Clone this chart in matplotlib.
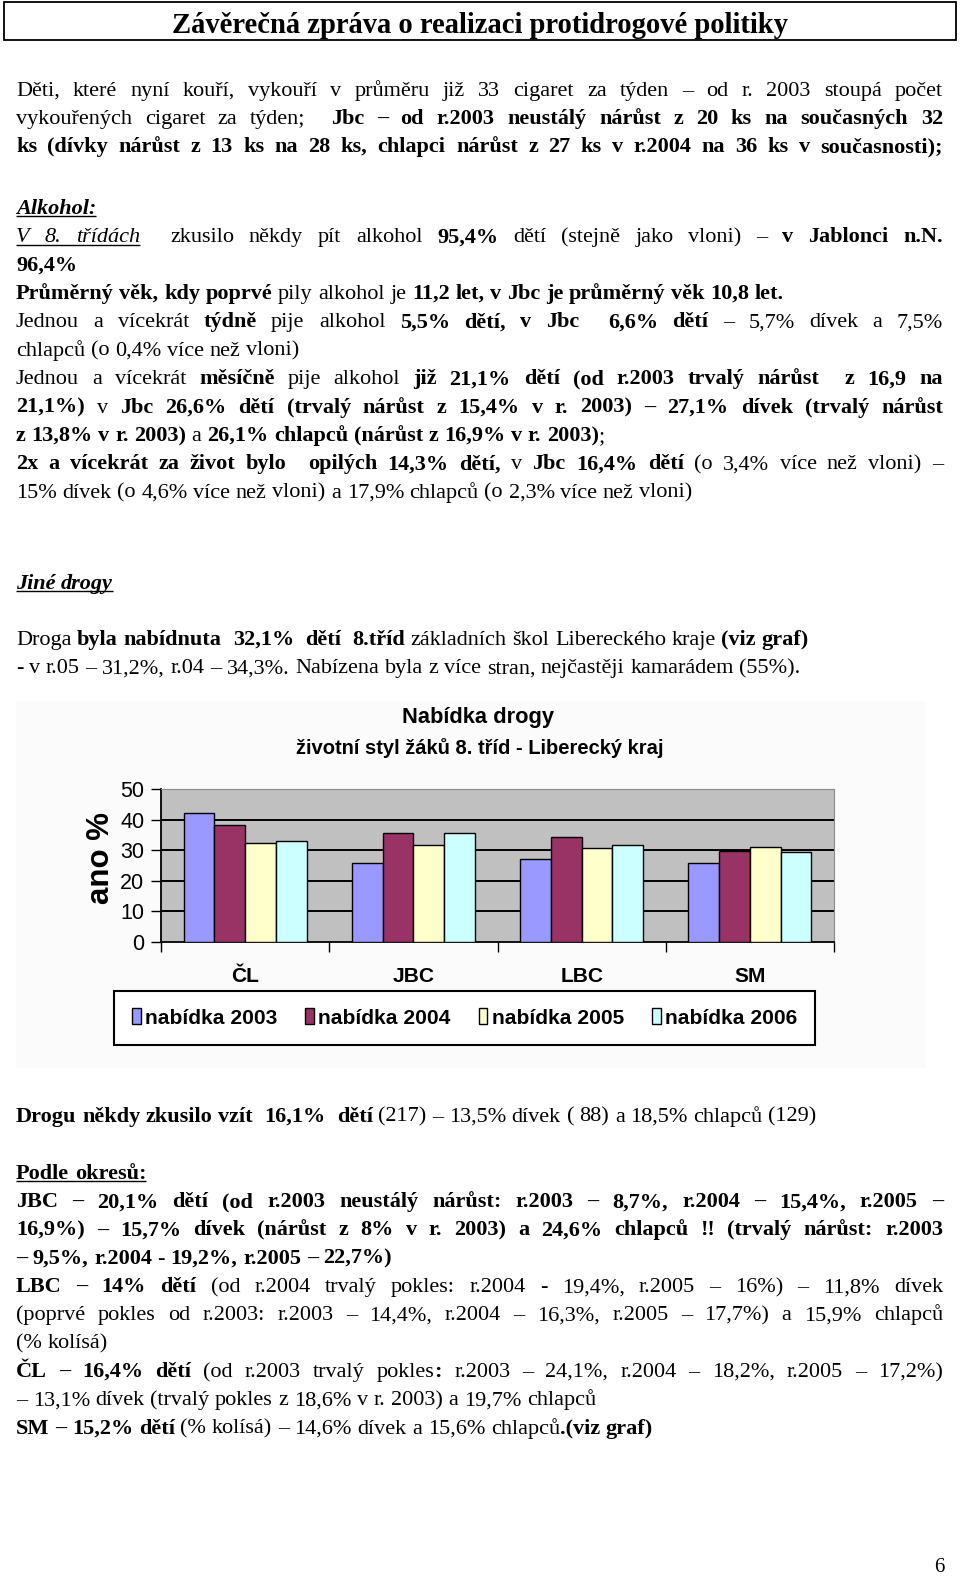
import re
import numpy as np
import matplotlib
matplotlib.use("Agg")
import matplotlib.pyplot as plt
from matplotlib.font_manager import FontProperties
from matplotlib.patches import Rectangle

# ---------------- chart data ----------------
categories = ['ČL', 'JBC', 'LBC', 'SM']
series_names = ['nabídka 2003', 'nabídka 2004', 'nabídka 2005', 'nabídka 2006']
offer_2003 = [42.0, 25.7, 27.0, 25.7]
offer_2004 = [38.2, 35.6, 34.4, 29.7]
offer_2005 = [32.2, 31.8, 30.6, 31.1]
offer_2006 = [32.9, 35.6, 31.8, 29.5]
series_colors = ['#9999FF', '#993366', '#FFFFCC', '#CCFFFF']
y_ticks = [0, 10, 20, 30, 40, 50]
chart_title = 'Nabídka drogy'
chart_subtitle = 'životní styl žáků 8. tříd - Liberecký kraj'
y_label = 'ano %'

# ---------------- page text (** bold, // italic, __ underline) ----------------
header_title = 'Závěrečná zpráva o realizaci protidrogové politiky'
page_number = '6'

block_a = [
    ('Děti, které nyní kouří, vykouří v průměru již 33 cigaret za týden – od r. 2003 stoupá počet', True),
    ('vykouřených cigaret za týden;  **Jbc – od r.2003 neustálý nárůst z 20 ks na současných 32**', True),
    ('**ks (dívky nárůst z 13 ks na 28 ks, chlapci nárůst z 27 ks v r.2004 na 36 ks v současnosti);**', True),
]
block_b = [
    ('**//__Alkohol:__//**', False),
    ('__//V 8. třídách//__  zkusilo někdy pít alkohol **95,4%** dětí (stejně jako vloni) – **v Jablonci n.N.**', True),
    ('**96,4%**', False),
    ('**Průměrný věk, kdy poprvé** pily alkohol je **11,2 let, v Jbc je průměrný věk 10,8 let.**', False),
    ('Jednou a vícekrát **týdně** pije alkohol **5,5% dětí, v Jbc  6,6% dětí** – 5,7% dívek a 7,5%', True),
    ('chlapců (o 0,4% více než vloni)', False),
    ('Jednou a vícekrát **měsíčně** pije alkohol **již 21,1% dětí (od r.2003 trvalý nárůst  z 16,9 na**', True),
    ('**21,1%)** v **Jbc 26,6% dětí (trvalý nárůst z 15,4% v r. 2003) – 27,1% dívek (trvalý nárůst**', True),
    ('**z 13,8% v r. 2003)** a **26,1% chlapců (nárůst z 16,9% v r. 2003)**;', False),
    ('**2x a vícekrát za život bylo  opilých 14,3% dětí,** v **Jbc 16,4% dětí** (o 3,4% více než vloni) –', True),
    ('15% dívek (o 4,6% více než vloni) a 17,9% chlapců (o 2,3% více než vloni)', False),
]
block_c1 = [('**//__Jiné drogy__//**', False)]
block_c2 = [
    ('Droga **byla nabídnuta  32,1%  dětí  8.tříd** základních škol Libereckého kraje **(viz graf)**', False),
    ('- v r.05 – 31,2%, r.04 – 34,3%. Nabízena byla z více stran, nejčastěji kamarádem (55%).', False),
]
block_d1 = [('**Drogu někdy zkusilo vzít  16,1%  dětí** (217) – 13,5% dívek ( 88) a 18,5% chlapců (129)', False)]
block_d2 = [
    ('**__Podle okresů:__**', False),
    ('**JBC – 20,1% dětí (od r.2003 neustálý nárůst: r.2003 – 8,7%, r.2004 – 15,4%, r.2005 –**', True),
    ('**16,9%) – 15,7% dívek (nárůst z 8% v r. 2003) a 24,6% chlapců !! (trvalý nárůst: r.2003**', True),
    ('**– 9,5%, r.2004 - 19,2%, r.2005 – 22,7%)**', False),
    ('**LBC – 14% dětí** (od r.2004 trvalý pokles: r.2004 - 19,4%, r.2005 – 16%) – 11,8% dívek', True),
    ('(poprvé pokles od r.2003: r.2003 – 14,4%, r.2004 – 16,3%, r.2005 – 17,7%) a 15,9% chlapců', True),
    ('(% kolísá)', False),
    ('**ČL – 16,4% dětí** (od r.2003 trvalý pokles**:** r.2003 – 24,1%, r.2004 – 18,2%, r.2005 – 17,2%)', True),
    ('– 13,1% dívek (trvalý pokles z 18,6% v r. 2003) a 19,7% chlapců', False),
    ('**SM – 15,2% dětí** (% kolísá) – 14,6% dívek a 15,6% chlapců**.(viz graf)**', False),
]

# ---------------- figure ----------------
W_PX, H_PX, DPI = 960, 1578, 100
SERIF = ['Liberation Serif', 'DejaVu Serif']
SANS = ['Liberation Sans', 'DejaVu Sans']

fig = plt.figure(figsize=(W_PX / DPI, H_PX / DPI), dpi=DPI)
renderer = fig.canvas.get_renderer()

ax = fig.add_axes([0, 0, 1, 1], zorder=0)
ax.set_xlim(0, W_PX)
ax.set_ylim(H_PX, 0)
ax.axis('off')


def fp(b=False, it=False, size=14, family=SERIF):
    return FontProperties(family=family, weight='bold' if b else 'normal',
                          style='italic' if it else 'normal', size=size)


def tw(s, prop):
    return renderer.get_text_width_height_descent(s, prop, ismath=False)[0]


def fit_size(s, prop_fn, target, base=16.0):
    return base * target / tw(s, prop_fn(base))


def parse(markup):
    parts = re.split(r'(\*\*|//|__)', markup)
    b = it = u = False
    pieces = []
    for p in parts:
        if p == '**':
            b = not b
        elif p == '//':
            it = not it
        elif p == '__':
            u = not u
        elif p:
            pieces.append((p, b, it, u))
    words, cur, nsp, gap = [], [], 0, 0
    for text, b, it, u in pieces:
        for ch in text:
            if ch == ' ':
                if cur:
                    words.append((gap, cur))
                    cur = []
                nsp += 1
            else:
                if not cur:
                    gap, nsp = nsp, 0
                if cur and cur[-1][1:] == (b, it, u):
                    cur[-1] = (cur[-1][0] + ch, b, it, u)
                else:
                    cur.append((ch, b, it, u))
    if cur:
        words.append((gap, cur))
    return words


L, R = 16, 943


def space_w(fs):
    return tw('x x', fp(size=fs)) - tw('xx', fp(size=fs))


def natural_width(words, fs, space_factor=1.0):
    total = sum(tw(s, fp(b, i, fs)) for g, pcs in words for s, b, i, u in pcs)
    total += sum(g for g, _ in words[1:]) * space_w(fs) * space_factor
    return total


def draw_line(words, yc, justify, fs):
    base = yc + 0.31 * fs * DPI / 72.0
    sw = space_w(fs)
    wl = [sum(tw(s, fp(b, i, fs)) for s, b, i, u in pcs) for g, pcs in words]
    nsp = sum(g for g, _ in words[1:])
    extra = sw
    if justify and nsp > 0:
        extra = (R - L - sum(wl)) / nsp
    x = L
    useg = None

    def uline(seg):
        ax.plot(seg, [base + 2.5, base + 2.5], color='black', lw=1.0,
                solid_capstyle='butt')

    for k, (g, pcs) in enumerate(words):
        if k > 0:
            x += g * extra
        for s, b, i, u in pcs:
            prop = fp(b, i, fs)
            w = tw(s, prop)
            ax.text(x, base, s, fontproperties=prop, va='baseline', ha='left',
                    color='black')
            if u:
                if useg is None:
                    useg = [x, x + w]
                else:
                    useg[1] = x + w
            elif useg is not None:
                uline(useg)
                useg = None
            x += w
    if useg is not None:
        uline(useg)


blocks = [
    (89, 28.1, block_a),
    (207, 28.4, block_b),
    (582, 28.3, block_c1),
    (638, 28.3, block_c2),
    (1115, 28.3, block_d1),
    (1172, 28.3, block_d2),
]

# font size: the widest line must fit with slightly tightened spaces
fs0 = 16.0
maxw = 0
for _, _, lines in blocks:
    for m, j in lines:
        maxw = max(maxw, natural_width(parse(m), fs0, 0.8 if j else 1.0))
FS = min(16.0, fs0 * (R - L) / maxw * 0.995)

for y0, step, lines in blocks:
    for k, (m, j) in enumerate(lines):
        draw_line(parse(m), y0 + k * step, j, FS)

# header box
ax.add_patch(Rectangle((4, 2), 952, 38, fill=False, edgecolor='black', lw=1.3))
hs = fit_size(header_title, lambda s: fp(True, False, s), 619)
ax.text(480, 22, header_title, fontproperties=fp(True, False, hs),
        ha='center', va='center_baseline')

# page number
ax.text(939, 1567, page_number, fontproperties=fp(False, False, 15),
        ha='center', va='center')

# ---------------- chart ----------------
ax.add_patch(Rectangle((16, 701), 910, 367, facecolor='#FBFBFB', edgecolor='none',
                       zorder=0))
ts = fit_size(chart_title, lambda s: fp(True, False, s, SANS), 152)
ax.text(478, 717, chart_title, fontproperties=fp(True, False, ts, SANS),
        ha='center', va='center')
ss = fit_size(chart_subtitle, lambda s: fp(True, False, s, SANS), 368)
ax.text(480, 748, chart_subtitle, fontproperties=fp(True, False, ss, SANS),
        ha='center', va='center')
ys = fit_size(y_label, lambda s: fp(True, False, s, SANS), 92)
ax.text(101, 858, y_label, fontproperties=fp(True, False, ys, SANS),
        ha='center', va='center', rotation=90)

px_l, px_r, px_t, px_b = 161, 834, 789, 942
axc = fig.add_axes([px_l / W_PX, 1 - px_b / H_PX, (px_r - px_l) / W_PX,
                    (px_b - px_t) / H_PX], zorder=2)
axc.set_facecolor('#C0C0C0')
series = [offer_2003, offer_2004, offer_2005, offer_2006]
x = np.arange(len(categories))
bw = 0.1825
handles = []
for i, (vals, col, name) in enumerate(zip(series, series_colors, series_names)):
    h = axc.bar(x + (i - 1.5) * bw, vals, bw, color=col, edgecolor='black',
                linewidth=1.0, label=name, zorder=3)
    handles.append(h)
for v in y_ticks[1:-1]:
    axc.axhline(v, color='black', lw=1.4, zorder=1)

tick_fs = fit_size('50', lambda s: fp(False, False, s, SANS), 24)
cat_fs = fit_size('JBC', lambda s: fp(True, False, s, SANS), 42)
leg_fs = fit_size(series_names[0], lambda s: fp(True, False, s, SANS), 132)

axc.set_xlim(-0.5, len(categories) - 0.5)
axc.set_ylim(y_ticks[0], y_ticks[-1])
axc.set_yticks(y_ticks)
axc.set_yticklabels([str(v) for v in y_ticks], fontproperties=fp(False, False, tick_fs, SANS))
axc.set_xticks(np.arange(len(categories) + 1) - 0.5)
axc.set_xticklabels([])
axc.set_xticks(x, minor=True)
axc.set_xticklabels(categories, minor=True, fontproperties=fp(True, False, cat_fs, SANS))
axc.tick_params(axis='y', direction='out', length=7, width=1.0, pad=5, colors='black')
axc.tick_params(axis='x', which='major', direction='out', length=7, width=1.0)
axc.tick_params(axis='x', which='minor', length=0, pad=18)
for side in ['left', 'bottom']:
    axc.spines[side].set_color('black')
    axc.spines[side].set_linewidth(1.3)
for side in ['top', 'right']:
    axc.spines[side].set_color('#8A8A8A')
    axc.spines[side].set_linewidth(0.8)

leg = fig.legend(handles, series_names, loc='center', ncol=4, mode='expand',
                 bbox_to_anchor=(114 / W_PX, 1 - 1047 / H_PX, 701 / W_PX, 58 / H_PX),
                 bbox_transform=fig.transFigure, borderaxespad=0, frameon=True,
                 fancybox=False, edgecolor='black', framealpha=1, facecolor='white',
                 prop=fp(True, False, leg_fs, SANS), handlelength=0.42,
                 handleheight=0.75, handletextpad=0.2, borderpad=0.85)
leg.get_frame().set_linewidth(1.5)

fig.savefig('out.png', dpi=DPI)
